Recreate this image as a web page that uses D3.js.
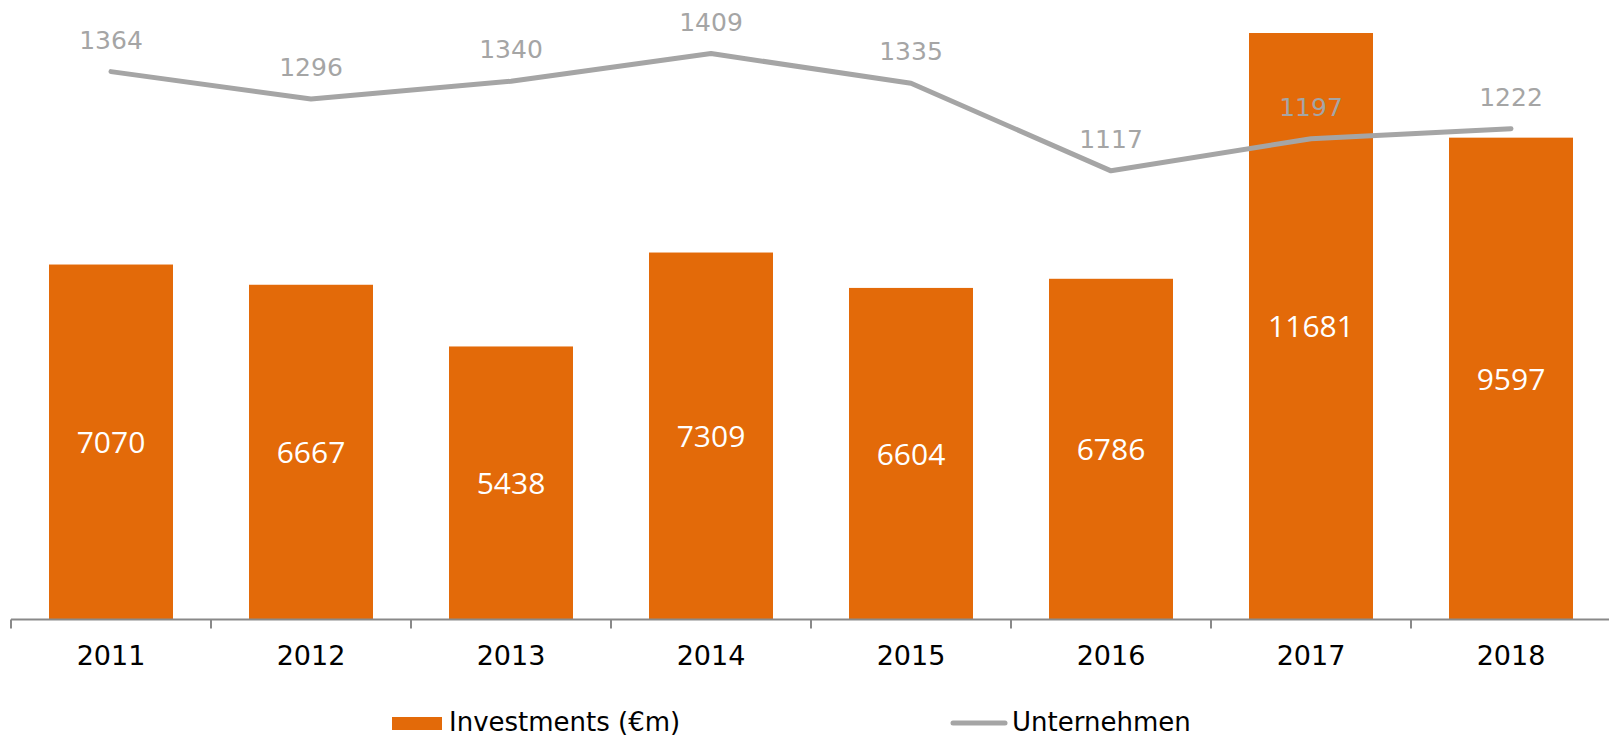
<!DOCTYPE html>
<html>
<head>
<meta charset="utf-8">
<script src="https://cdn.jsdelivr.net/npm/d3@7"></script>
<style>
  body { margin: 0; background: #fff; }
  svg { display: block; }
</style>
</head>
<body>
<script>
var years = ['2011', '2012', '2013', '2014', '2015', '2016', '2017', '2018'];
var investments = [7070, 6667, 5438, 7309, 6604, 6786, 11681, 9597];
var unternehmen = [1364, 1296, 1340, 1409, 1335, 1117, 1197, 1222];

var width = 1609,
  height = 738,
  left = 11,
  right = 1611,
  base = 619.5,
  plotTop = 17;

var orange = '#e36a09',
  grey = '#a5a5a5';

var svg = d3.select('body').append('svg')
  .attr('width', width)
  .attr('height', height);

var x = d3.scaleBand()
  .domain(years)
  .range([left, right])
  .paddingInner(0.38)
  .paddingOuter(0.19);

var y = d3.scaleLinear()
  .domain([0, 12000])
  .range([base, plotTop]);

var y2 = d3.scaleLinear()
  .domain([0, 1500])
  .range([base, plotTop]);

// bars
svg.selectAll('rect.bar')
  .data(investments)
  .enter().append('rect')
  .attr('class', 'bar')
  .attr('x', (d, i) => x(years[i]))
  .attr('y', d => y(d))
  .attr('width', x.bandwidth())
  .attr('height', d => base - y(d))
  .attr('fill', orange);

svg.selectAll('text.barlabel')
  .data(investments)
  .enter().append('text')
  .attr('class', 'barlabel')
  .attr('x', (d, i) => x(years[i]) + x.bandwidth() / 2)
  .attr('y', d => (y(d) + base) / 2 + 11)
  .attr('text-anchor', 'middle')
  .attr('font-family', '"Open Sans", sans-serif')
  .attr('font-size', 30)
  .attr('fill', '#fff')
  .text(d => d);

// axis
var axis = svg.append('g')
  .attr('transform', `translate(0, ${base})`)
  .call(d3.axisBottom(x).tickSize(0));
axis.select('.domain').remove();
axis.selectAll('text')
  .attr('y', 45.5)
  .attr('dy', 0)
  .attr('font-family', '"DejaVu Sans", Verdana, sans-serif')
  .attr('font-size', 27)
  .attr('fill', '#000');

axis.append('line')
  .attr('x1', left)
  .attr('x2', width)
  .attr('y1', 0)
  .attr('y2', 0)
  .attr('stroke', '#898989')
  .attr('stroke-width', 2);

axis.selectAll('line.bound')
  .data(d3.range(years.length + 1))
  .enter().append('line')
  .attr('class', 'bound')
  .attr('x1', i => left + i * x.step())
  .attr('x2', i => left + i * x.step())
  .attr('y1', 0)
  .attr('y2', 9)
  .attr('stroke', '#898989')
  .attr('stroke-width', 2);

// line
var line = d3.line()
  .x((d, i) => x(years[i]) + x.bandwidth() / 2)
  .y(d => y2(d));

svg.append('path')
  .datum(unternehmen)
  .attr('d', line)
  .attr('fill', 'none')
  .attr('stroke', grey)
  .attr('stroke-width', 5)
  .attr('stroke-linecap', 'round')
  .attr('stroke-linejoin', 'round');

svg.selectAll('text.linelabel')
  .data(unternehmen)
  .enter().append('text')
  .attr('class', 'linelabel')
  .attr('x', (d, i) => x(years[i]) + x.bandwidth() / 2)
  .attr('y', d => y2(d) - 23)
  .attr('text-anchor', 'middle')
  .attr('font-family', '"DejaVu Sans", Verdana, sans-serif')
  .attr('font-size', 25)
  .attr('fill', grey)
  .text(d => d);

// legend
var legend = svg.append('g')
  .attr('font-family', '"DejaVu Sans", Verdana, sans-serif')
  .attr('font-size', 26)
  .attr('fill', '#000');
legend.append('rect')
  .attr('x', 392)
  .attr('y', 717)
  .attr('width', 50)
  .attr('height', 13)
  .attr('fill', orange);
legend.append('text')
  .attr('x', 449)
  .attr('y', 731)
  .text('Investments (€m)');
legend.append('line')
  .attr('x1', 953)
  .attr('x2', 1005)
  .attr('y1', 723)
  .attr('y2', 723)
  .attr('stroke', grey)
  .attr('stroke-width', 5)
  .attr('stroke-linecap', 'round');
legend.append('text')
  .attr('x', 1012)
  .attr('y', 731)
  .text('Unternehmen');
</script>
</body>
</html>
